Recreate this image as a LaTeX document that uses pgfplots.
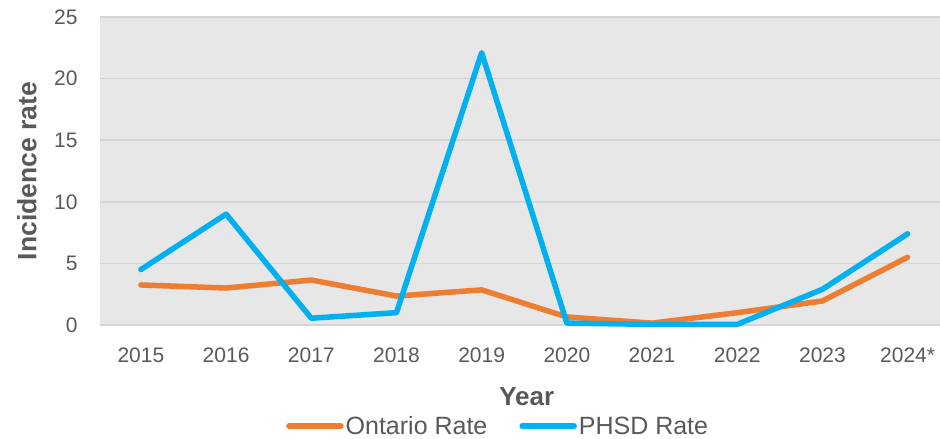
\documentclass[border=0pt]{standalone}
\usepackage{fontspec}
\setmainfont{Liberation Sans}
\usepackage{pgfplots}
\pgfplotsset{compat=1.18}
\definecolor{orng}{HTML}{ED7D31}
\definecolor{blu}{HTML}{00B0F0}
\definecolor{bgg}{HTML}{E7E7E7}
\definecolor{grd}{HTML}{D6D6D6}
\definecolor{txt}{HTML}{595959}
\pgfplotstableread{
x ont phsd
0 3.25 4.5
1 3.0 9.0
2 3.65 0.55
3 2.35 1.0
4 2.85 22.1
5 0.65 0.15
6 0.15 0.05
7 1.0 0.05
8 1.95 2.9
9 5.5 7.4
}\datatable
\begin{document}
\begin{tikzpicture}[x=1bp,y=1bp]
\useasboundingbox (0,0) rectangle (940,439);
\begin{axis}[
  at={(100bp,114bp)}, anchor=south west,
  scale only axis, width=840bp, height=308bp,
  xmin=-0.48, xmax=9.38, ymin=0, ymax=25,
  xtick={0,...,9},
  xticklabels={2015,2016,2017,2018,2019,2020,2021,2022,2023,2024*},
  ytick={0,5,...,25},
  /pgf/number format/assume math mode=true,
  axis line style={draw=none},
  major tick length=0pt,
  ymajorgrids, grid style={grd, line width=1.6bp},
  axis background/.style={fill=bgg},
  tick label style={font=\fontsize{21bp}{25bp}\selectfont, text=txt},
  xticklabel style={yshift=-19bp},
  yticklabel style={xshift=-19bp},
  ylabel={Incidence rate},
  ylabel style={at={(axis description cs:-0.087,0.5)}, anchor=center, rotate=0, font=\bfseries\fontsize{26.5bp}{30bp}\selectfont, text=txt},
  xlabel={Year},
  xlabel style={at={(axis description cs:0.508,-0.232)}, anchor=center, font=\bfseries\fontsize{26bp}{30bp}\selectfont, text=txt},
  legend columns=2,
  legend style={at={(axis description cs:0.474,-0.328)}, anchor=center, draw=none, fill=none,
    font=\fontsize{25bp}{29bp}\selectfont, text=txt, inner sep=1bp,
    /tikz/every even column/.append style={column sep=30bp}},
  legend image code/.code={\draw[#1, line width=5.5bp, line cap=round] (0bp,0bp) -- (52bp,0bp);},
  clip=false,
]
\addplot[orng, line width=5.5bp, line cap=round, line join=round] table[x=x, y=ont] {\datatable};
\addlegendentry{Ontario Rate}
\addplot[blu, line width=5.5bp, line cap=round, line join=round] table[x=x, y=phsd] {\datatable};
\addlegendentry{PHSD Rate}
\end{axis}
\end{tikzpicture}
\end{document}
